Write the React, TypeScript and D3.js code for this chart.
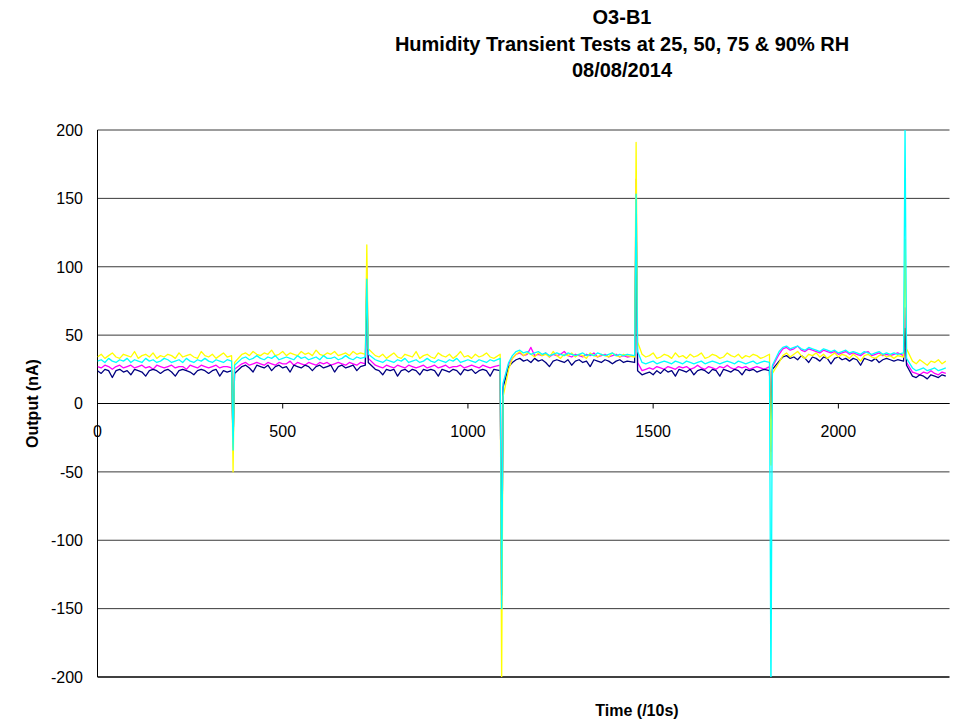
import React from "react";
import * as d3 from "d3";

// Time axis: one sample every 10 units (t = 0, 10, ..., 2290); spikes at their own times
const STEP = 10;
const spikeIndex = [37, 73, 109, 145, 182, 218];
const spikeTimes = [366, 727, 1091, 1454, 1818, 2180];

const navy: number[] = [
  24,22,25,24,19,24,25,23,24,21, 25,24,23,20,24,25,24,22,24,25, 23,20,24,25,24,23,21,24,25,24, 22,24,25,20,24,23,24,
  -28,
  22,27,28,26,23,28,27,26,28,24, 27,28,26,27,23,28,27,26,28,27, 24,27,28,26,27,28,23,27,28,26, 27,28,24,27,28,
  85,
  30,25,24,21,25,24,25,20,24,25, 23,25,24,21,25,24,25,24,20,25, 24,23,25,24,21,25,24,25,22,24, 25,24,20,25,24,
  -140,
  12,27,30,32,33,31,32,30,33,31, 32,30,27,31,32,31,30,32,28,31, 32,30,31,27,32,31,30,32,31,29, 31,32,30,31,30,
  140,
  24,21,22,23,21,24,22,25,23,24, 20,25,24,23,25,21,24,25,24,22, 25,24,20,25,24,23,25,24,21,25, 24,25,23,24,25,24,
  -18,
  25,31,34,35,33,34,32,35,33,30, 34,33,31,34,33,29,33,34,32,33, 31,33,32,28,33,32,31,33,30,32, 33,32,31,32,31,
  55,
  28,20,19,21,20,18,21,20,19,21,20,
];

const magenta: number[] = [
  27,26,28,27,25,27,28,26,27,28, 26,27,28,26,27,25,28,27,26,27, 28,26,27,27,25,28,27,26,28,27, 26,27,28,26,27,27,26,
  -32,
  25,29,30,28,29,30,29,28,30,29, 28,30,29,29,31,28,30,29,28,30, 29,28,30,29,30,28,29,30,29,28, 30,29,28,30,29,
  100,
  33,28,27,26,28,27,26,28,27,26, 28,27,26,27,28,26,27,28,26,27, 28,26,27,27,28,26,27,28,27,26, 28,27,26,27,28,
  -148,
  14,29,33,36,37,35,36,41,35,36, 35,37,34,36,35,36,38,35,34,36, 35,34,36,35,37,34,35,36,34,35, 36,34,35,34,35,
  164,
  30,24,25,26,25,27,26,25,27,26, 25,27,26,27,25,26,28,26,25,27, 26,25,27,26,28,26,25,27,26,27, 25,26,27,26,25,27,
  -35,
  27,36,40,41,39,40,42,39,38,40, 39,38,37,39,38,37,38,36,37,38, 36,37,36,35,37,38,35,36,37,35, 36,35,36,37,35,
  70,
  30,23,22,21,23,22,24,22,21,23,22,
];

const yellow: number[] = [
  34,36,33,35,37,34,33,36,35,34, 38,33,35,36,34,37,33,35,34,36, 35,33,37,34,35,36,34,33,38,35, 34,36,33,35,37,34,35,
  -50,
  30,36,37,35,38,36,35,37,36,39, 35,36,38,35,37,36,35,38,36,37, 35,39,36,35,37,36,38,35,36,37, 35,38,36,37,36,
  116,
  40,35,34,36,33,35,37,34,33,36, 35,34,38,33,35,36,34,33,37,35, 34,36,33,35,38,34,35,33,36,34, 35,37,34,33,36,
  -205,
  5,25,33,36,38,35,37,36,34,37, 35,36,34,38,35,33,36,35,37,34, 36,35,33,37,35,34,36,35,34,37, 35,34,36,35,34,
  191,
  45,36,34,35,37,33,34,36,35,33, 37,34,35,33,36,34,35,37,33,34, 36,35,33,34,37,35,34,36,33,35, 34,36,35,33,34,36,
  -45,
  22,30,35,37,34,36,38,35,33,36, 35,37,34,36,33,35,37,34,36,35, 33,36,34,31,35,36,34,33,35,36, 34,35,33,35,34,
  120,
  40,31,29,32,30,28,31,30,32,29,31,
];

const cyan: number[] = [
  31,32,30,33,31,30,32,31,33,30, 32,31,30,33,31,32,30,31,33,32, 30,31,32,30,33,31,30,32,31,33, 31,30,32,31,30,32,31,
  -34,
  28,33,34,32,33,35,33,32,34,33, 35,32,33,34,33,32,35,33,34,32, 33,34,32,35,33,33,34,32,33,35, 33,32,34,33,34,
  91,
  36,32,31,30,32,31,30,32,31,33, 30,31,32,30,31,33,31,30,32,31, 30,32,31,33,30,31,32,31,30,32, 31,30,32,31,33,
  -150,
  15,30,35,38,39,37,38,36,37,38, 36,37,35,36,37,36,35,37,36,35, 36,37,35,36,35,37,36,35,36,37, 35,36,35,36,35,
  153,
  38,30,29,30,31,29,30,31,30,29, 31,30,29,31,30,29,30,31,29,30, 31,30,29,30,31,30,29,31,30,29, 30,31,29,30,31,30,
  -215,
  28,38,41,42,40,41,42,40,39,41, 40,39,38,40,39,38,39,37,38,39, 37,38,37,36,38,37,36,37,38,36, 37,36,37,36,37,
  205,
  33,26,24,25,26,24,25,26,24,25,26,
];

const seriesList = [
  { name: "magenta", values: magenta, color: "#FF00FF" },
  { name: "navy", values: navy, color: "#000080" },
  { name: "yellow", values: yellow, color: "#FFFF00" },
  { name: "cyan", values: cyan, color: "#00FFFF" },
];

const xTicks = [0, 500, 1000, 1500, 2000];
const yTicks = [-200, -150, -100, -50, 0, 50, 100, 150, 200];
const titleLines = ["O3-B1", "Humidity Transient Tests at 25, 50, 75 & 90% RH", "08/08/2014"];
const xTitle = "Time (/10s)";
const yTitle = "Output (nA)";

const W = 957;
const H = 720;
const PL = 97.5;
const PR = 949.5;
const PT = 130;
const PB = 677;
const FONT = "Arial, 'Liberation Sans', sans-serif";

function timeAt(i: number): number {
  const k = spikeIndex.indexOf(i);
  if (k >= 0) return spikeTimes[k];
  const kb = spikeIndex.indexOf(i + 1);
  if (kb >= 0) return spikeTimes[kb] - 4;
  const ka = spikeIndex.indexOf(i - 1);
  if (ka >= 0) return spikeTimes[ka] + 4;
  return i * STEP;
}

export default function App() {
  const x = d3.scaleLinear().domain([0, 2300]).range([PL, PR]);
  const y = d3.scaleLinear().domain([-200, 200]).range([PB, PT]);
  const line = d3
    .line<number>()
    .x((_, i) => x(timeAt(i)))
    .y((d) => y(d));

  return (
    <svg
      width={W}
      height={H}
      style={{ position: "absolute", left: 0, top: 0, background: "#fff" }}
      fontFamily={FONT}
    >
      <defs>
        <clipPath id="plotClip">
          <rect x={PL} y={PT} width={PR - PL} height={PB - PT} />
        </clipPath>
      </defs>
      <rect x={0} y={0} width={W} height={H} fill="#fff" />
      {yTicks.map((t) => (
        <line
          key={"g" + t}
          x1={PL}
          x2={PR}
          y1={y(t)}
          y2={y(t)}
          stroke={t === -200 ? "#404040" : "#3a3a3a"}
          strokeWidth={t === -200 ? 2 : 1}
        />
      ))}
      <line x1={PL} x2={PL} y1={PT} y2={PB} stroke="#000" strokeWidth={1} />
      {yTicks.map((t) => (
        <text
          key={"yl" + t}
          x={83}
          y={y(t)}
          dy="0.36em"
          textAnchor="end"
          fontSize={16}
          fill="#000"
        >
          {t}
        </text>
      ))}
      <line x1={PL} x2={PR} y1={y(0)} y2={y(0)} stroke="#000" strokeWidth={1} />
      {xTicks.map((t) => (
        <g key={"xt" + t}>
          <line x1={x(t)} x2={x(t)} y1={y(0)} y2={y(0) + 5} stroke="#000" strokeWidth={1} />
          <text x={x(t)} y={437} textAnchor="middle" fontSize={16} fill="#000">
            {t}
          </text>
        </g>
      ))}
      <g clipPath="url(#plotClip)">
        {seriesList.map((s) => (
          <path
            key={s.name}
            d={line(s.values) || ""}
            fill="none"
            stroke={s.color}
            strokeWidth={1.3}
            strokeLinejoin="round"
          />
        ))}
      </g>
      {titleLines.map((t, i) => (
        <text
          key={"t" + i}
          x={622}
          y={24 + i * 26.5}
          textAnchor="middle"
          fontSize={20}
          fontWeight="bold"
          fill="#000"
        >
          {t}
        </text>
      ))}
      <text x={637} y={716} textAnchor="middle" fontSize={16} fontWeight="bold" fill="#000">
        {xTitle}
      </text>
      <text
        transform={`translate(32, ${(PT + PB) / 2}) rotate(-90)`}
        textAnchor="middle"
        dy="0.36em"
        fontSize={16}
        fontWeight="bold"
        fill="#000"
      >
        {yTitle}
      </text>
    </svg>
  );
}
